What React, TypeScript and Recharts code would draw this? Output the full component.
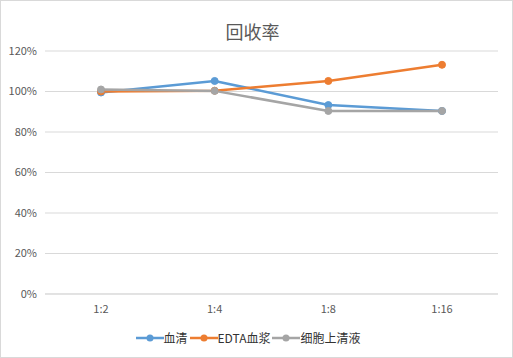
import { LineChart, Line, XAxis, YAxis, CartesianGrid, Legend } from "recharts";

const categories = ["1:2", "1:4", "1:8", "1:16"];
const serum = [0.995, 1.052, 0.933, 0.904];
const edtaPlasma = [1.0, 1.004, 1.052, 1.132];
const cellSupernatant = [1.01, 1.003, 0.904, 0.904];
const yTicks = [0, 0.2, 0.4, 0.6, 0.8, 1.0, 1.2];

const seriesInfo = [
  { key: "serum", name: "血清", color: "#5B9BD5" },
  { key: "edta", name: "EDTA血浆", color: "#ED7D31" },
  { key: "cell", name: "细胞上清液", color: "#A5A5A5" },
];

const data = categories.map((c, i) => ({
  name: c,
  serum: serum[i],
  edta: edtaPlasma[i],
  cell: cellSupernatant[i],
}));

const font = "'Noto Sans CJK SC', 'Liberation Sans', sans-serif";

const LegendContent = () => (
  <div style={{ display: "flex", justifyContent: "center", alignItems: "center", fontFamily: font, fontSize: 12, color: "#333" }}>
    {seriesInfo.map((s) => (
      <div key={s.key} style={{ display: "flex", alignItems: "center", marginRight: 2 }}>
        <svg width={28} height={10}>
          <line x1={0} y1={5} x2={28} y2={5} stroke={s.color} strokeWidth={2.5} />
          <circle cx={14} cy={5} r={3.5} fill={s.color} />
        </svg>
        <span>{s.name}</span>
      </div>
    ))}
  </div>
);

export default function App() {
  return (
    <div style={{ position: "fixed", top: 0, left: 0, width: 513, height: 358, background: "#fff" }}>
      <div style={{ position: "absolute", left: 0, top: 0, width: 511, height: 356, border: "1px solid #d9d9d9" }} />
      <div style={{ position: "absolute", top: 18, left: -4, width: 513, textAlign: "center", fontFamily: font, fontSize: 18, color: "#595959" }}>
        回收率
      </div>
      <LineChart width={513} height={358} data={data} margin={{ top: 51, right: 15, left: 0, bottom: 3 }}>
        <CartesianGrid vertical={false} stroke="#d9d9d9" />
        <XAxis
          dataKey="name"
          axisLine={{ stroke: "#d9d9d9" }}
          tickLine={false}
          tick={{ fill: "#595959", fontSize: 11, fontFamily: font }}
          tickMargin={5}
          height={35}
          padding={{ left: 56, right: 56 }}
        />
        <YAxis
          domain={[0, 1.2]}
          ticks={yTicks}
          axisLine={false}
          tickLine={false}
          width={45}
          tick={{ fill: "#595959", fontSize: 11, fontFamily: font }}
          tickFormatter={(v) => `${Math.round(v * 100)}%`}
        />
        <Legend verticalAlign="bottom" height={26} content={<LegendContent />} />
        {seriesInfo.map((s) => (
          <Line
            key={s.key}
            type="linear"
            dataKey={s.key}
            name={s.name}
            stroke={s.color}
            strokeWidth={2.5}
            dot={{ r: 3.5, fill: s.color, stroke: s.color, strokeWidth: 1 }}
            isAnimationActive={false}
          />
        ))}
      </LineChart>
    </div>
  );
}
